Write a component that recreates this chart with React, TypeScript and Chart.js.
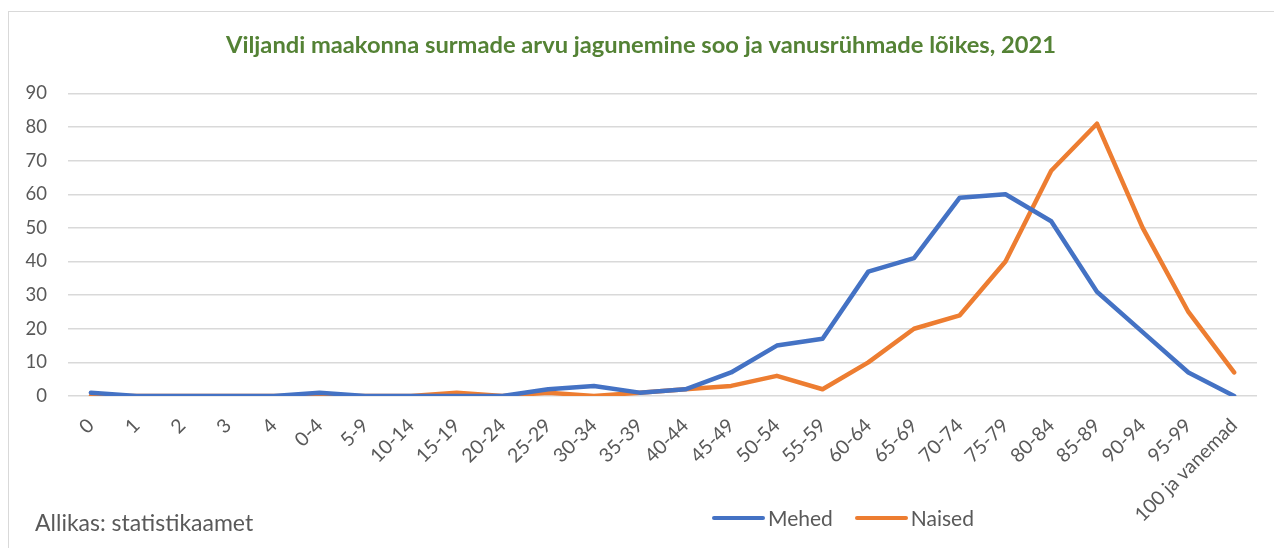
import React, { useEffect, useRef } from "react";
import { Chart, registerables } from "chart.js";

Chart.register(...registerables);

const categories: string[] = [
  "0", "1", "2", "3", "4", "0-4", "5-9", "10-14", "15-19", "20-24", "25-29", "30-34", "35-39",
  "40-44", "45-49", "50-54", "55-59", "60-64", "65-69", "70-74", "75-79", "80-84", "85-89",
  "90-94", "95-99", "100 ja vanemad",
];
const mehed: number[] = [1, 0, 0, 0, 0, 1, 0, 0, 0, 0, 2, 3, 1, 2, 7, 15, 17, 37, 41, 59, 60, 52, 31, 19, 7, 0];
const naised: number[] = [0, 0, 0, 0, 0, 0, 0, 0, 1, 0, 1, 0, 1, 2, 3, 6, 2, 10, 20, 24, 40, 67, 81, 50, 25, 7];
const yTicks: number[] = [0, 10, 20, 30, 40, 50, 60, 70, 80, 90];

const seriesNames = ["Mehed", "Naised"];
const seriesColors = ["#4472C4", "#ED7D31"];
const titleText = "Viljandi maakonna surmade arvu jagunemine soo ja vanusrühmade lõikes, 2021";
const sourceText = "Allikas: statistikaamet";

const FONT = "Lato, 'Open Sans', sans-serif";
const TEXT = "#595959";

export default function App() {
  const ref = useRef<HTMLCanvasElement | null>(null);

  useEffect(() => {
    if (!ref.current) return;
    const chart = new Chart(ref.current, {
      type: "line",
      data: {
        labels: categories,
        datasets: [
          {
            label: seriesNames[0],
            data: mehed,
            borderColor: seriesColors[0],
            backgroundColor: seriesColors[0],
            borderWidth: 4.5,
            pointRadius: 0,
            tension: 0,
            borderJoinStyle: "round",
            borderCapStyle: "round",
          },
          {
            label: seriesNames[1],
            data: naised,
            borderColor: seriesColors[1],
            backgroundColor: seriesColors[1],
            borderWidth: 4.5,
            pointRadius: 0,
            tension: 0,
            borderJoinStyle: "round",
            borderCapStyle: "round",
          },
        ],
      },
      options: {
        animation: false,
        responsive: true,
        maintainAspectRatio: false,
        layout: { padding: { left: 16, right: 25, top: 0, bottom: 0 } },
        plugins: {
          legend: { display: false },
          tooltip: { enabled: false },
          title: {
            display: true,
            text: titleText,
            color: "#548235",
            font: { family: FONT, size: 23.7, weight: "bold" },
            padding: { top: 19, bottom: 34 },
          },
        },
        scales: {
          x: {
            offset: true,
            grid: { display: false, drawTicks: false },
            border: { display: false },
            ticks: {
              color: TEXT,
              font: { family: FONT, size: 19.5 },
              minRotation: 45,
              maxRotation: 45,
              autoSkip: false,
              padding: 18,
            },
            afterFit: (scale: any) => {
              scale.height = 152;
              scale.paddingLeft = 0;
              scale.paddingRight = 0;
            },
          },
          y: {
            min: 0,
            max: 90,
            afterBuildTicks: (scale: any) => {
              scale.ticks = yTicks.map((v) => ({ value: v }));
            },
            afterFit: (scale: any) => {
              scale.width = 43;
            },
            grid: { color: "#d9d9d9", lineWidth: 1.5, drawTicks: false },
            border: { display: false },
            ticks: {
              color: TEXT,
              font: { family: FONT, size: 18.5 },
              padding: 21,
            },
          },
        },
      },
    });
    return () => chart.destroy();
  }, []);

  return (
    <div
      style={{
        position: "relative",
        marginLeft: 0,
        marginTop: 3,
        width: 1273,
        height: 536,
        borderLeft: "1px solid #d9d9d9",
        borderTop: "1px solid #d9d9d9",
        background: "#fff",
        boxSizing: "content-box",
      }}
    >
      <canvas ref={ref} style={{ position: "absolute", left: 0, top: 0, width: 1273, height: 536 }} />
      <div
        style={{
          position: "absolute",
          left: 26,
          top: 497,
          fontFamily: FONT,
          fontSize: 23,
          lineHeight: "26px",
          color: TEXT,
          whiteSpace: "nowrap",
        }}
      >
        {sourceText}
      </div>
      <div
        style={{
          position: "absolute",
          left: 703,
          top: 493,
          height: 26,
          display: "flex",
          alignItems: "center",
          fontFamily: FONT,
          fontSize: 21,
          lineHeight: "26px",
          color: TEXT,
          whiteSpace: "nowrap",
        }}
      >
        {seriesNames.map((n, i) => (
          <div key={n} style={{ display: "flex", alignItems: "center", marginRight: i === 0 ? 22 : 0 }}>
            <span
              style={{
                display: "inline-block",
                width: 53,
                height: 4,
                borderRadius: 2,
                background: seriesColors[i],
                marginRight: 3,
              }}
            />
            <span>{n}</span>
          </div>
        ))}
      </div>
    </div>
  );
}
